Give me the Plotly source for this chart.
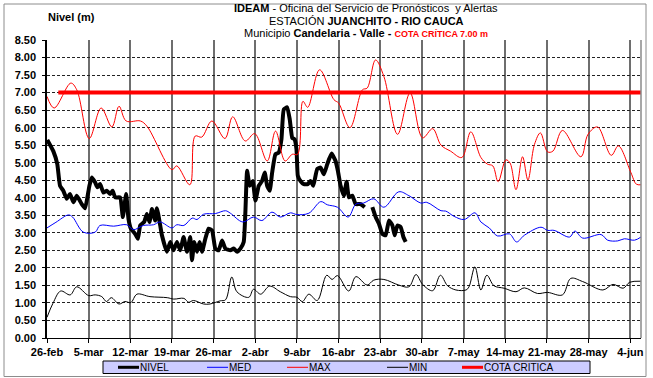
import pandas as pd
import plotly.graph_objects as go

# ---- data -------------------------------------------------------------
start_date = pd.Timestamp("2015-02-26")

tick_days = [0, 7, 14, 21, 28, 35, 42, 49, 56, 63, 70, 77, 84, 91, 98]
tick_labels = ["26-feb", "5-mar", "12-mar", "19-mar", "26-mar", "2-abr", "9-abr",
               "16-abr", "23-abr", "30-abr", "7-may", "14-may", "21-may",
               "28-may", "4-jun"]

nivel_days = [0.05, 1.06, 1.73, 2.19, 2.74, 3.32, 3.87, 4.43, 5.0, 5.84, 6.40,
              7.12, 7.53, 8.08, 8.47, 8.92, 9.48, 10.05, 10.61, 11.03, 11.45,
              12.29, 12.74, 13.30, 13.69, 14.09, 14.81, 15.27, 15.66, 16.33,
              16.78, 17.22, 17.63, 18.18, 18.47, 19.02, 19.31, 20.15, 20.71,
              21.26, 21.84, 22.39, 22.95, 23.52, 24.07, 24.36, 24.75, 25.20,
              25.64, 26.04, 26.60, 27.15, 27.73, 28.28, 28.84, 29.41, 29.97,
              30.81, 31.36, 31.94, 32.49, 33.05, 33.33, 33.62, 34.06, 34.56,
              35.02, 35.57, 36.14, 36.58, 36.99, 37.42, 37.83, 38.38, 38.94,
              39.39, 39.78, 40.35, 40.79, 41.20, 41.58, 41.92, 42.14, 42.59,
              43.15, 43.82, 44.28, 44.73, 45.40, 45.96, 46.52, 47.09, 47.81,
              48.48, 48.87, 49.33, 49.88, 50.34, 50.72, 51.30, 51.85, 52.69,
              53.37, 54.0, 54.66, 55.22, 55.77, 56.35, 56.90, 57.46, 58.03,
              58.42, 58.87, 59.43, 59.88, 60.27]
nivel_vals = [5.65, 5.33, 4.96, 4.34, 4.20, 3.97, 4.11, 3.87, 4.06, 3.82, 3.70,
              4.34, 4.58, 4.44, 4.30, 4.39, 4.15, 4.20, 4.11, 4.20, 4.01,
              4.01, 3.45, 4.11, 3.40, 3.12, 2.97, 2.83, 3.21, 3.31,
              3.54, 3.31, 3.68, 3.35, 3.70, 3.21, 2.93, 2.46, 2.74,
              2.50, 2.74, 2.50, 2.88, 2.46, 2.88, 2.22, 2.74, 2.46,
              2.74, 2.46, 2.83, 3.12, 3.07, 2.55, 2.50, 2.78, 2.55,
              2.50, 2.55, 2.46, 2.55, 2.74, 3.59, 4.77, 4.34, 4.48,
              3.92, 4.34, 4.48, 4.72, 4.34, 4.20, 4.72, 5.24, 5.29,
              5.67, 6.52, 6.58, 6.23, 5.71, 5.67, 5.38, 4.63, 4.48,
              4.39, 4.39, 4.48, 4.34, 4.82, 4.86, 4.67, 4.96, 5.26,
              5.05, 4.77, 4.34, 4.06, 4.46, 4.01, 4.06, 3.82, 3.82,
              3.73, None, 3.73, 3.45, 3.26, 2.97, 2.93, 3.35, 3.21,
              2.93, 3.21, 3.16, 2.88, 2.74]

med_days = [0, 1.5, 3.6, 4.3, 6.1, 8.1, 8.9, 11.2, 13.4, 14.5, 16.2, 17.9, 19,
            21, 21.8, 23, 24.4, 25.2, 26.3, 28.3, 30, 30.8, 32.9, 34.7, 36.1,
            37.8, 39.2, 40.9, 42, 44, 46, 47.1, 48.8, 50.6, 51.9, 53.2, 54.9,
            56.6, 59.1, 60.8, 62.8, 63.8, 66.2, 67, 68.4, 70.1, 71.9, 72.9,
            74.3, 75.7, 77.7, 78.9, 80.2, 83, 84.1, 85.2, 87.8, 88.7, 90,
            93.1, 94.2, 95.9, 97, 98.7, 99.8]
med_vals = [3.14, 3.30, 3.51, 3.45, 3.02, 3.02, 3.21, 3.19, 3.23, 3.09, 3.21,
            3.23, 3.31, 3.14, 3.23, 3.21, 3.42, 3.38, 3.53, 3.55, 3.63, 3.56,
            3.31, 3.45, 3.35, 3.59, 3.45, 3.57, 3.52, 3.56, 3.89, 3.80, 3.73,
            3.45, 3.82, 3.85, 3.97, 3.73, 4.17, 4.06, 3.85, 3.87, 3.63, 3.62,
            3.47, 3.38, 3.57, 3.31, 3.14, 2.91, 2.97, 2.74, 2.93, 3.16, 3.07,
            3.07, 2.88, 3.05, 2.85, 2.95, 2.79, 2.77, 2.83, 2.79, 2.88]

max_days = [0, 1.2, 4, 5, 7.1, 9.1, 10.9, 12.1, 13.3, 15.7, 16.8, 21, 21.8, 24,
            24.9, 26, 27.7, 29.9, 31.2, 33.3, 34.9, 37, 38.4, 40, 41.2, 42.1,
            43, 43.8, 45.8, 48.2, 49, 50.9, 53, 53.8, 55.2, 56.6, 58.9, 61,
            63.1, 64.8, 66.2, 67.8, 69.7, 71.2, 72.9, 74, 74.9, 75.8, 77.1,
            77.8, 78.8, 79.9, 80.8, 81.9, 82.9, 84.1, 85, 86.6, 89.7, 90.9,
            92.5, 94.8, 96, 98.1, 99, 99.8]
max_vals = [6.89, 6.56, 7.27, 7.08, 5.69, 6.56, 6.02, 6.61, 6.19, 6.19, 6.04,
            4.80, 4.91, 4.37, 5.76, 5.73, 6.19, 5.69, 6.31, 5.62, 5.83, 5.05,
            5.90, 5.05, 5.24, 5.24, 6.75, 6.58, 7.65, 6.80, 6.70, 6.00, 7.08,
            7.13, 7.93, 7.46, 5.81, 6.99, 5.71, 5.97, 5.50, 5.33, 5.15, 5.88,
            5.15, 4.96, 4.91, 4.46, 5.08, 4.99, 4.23, 5.17, 4.51, 5.52, 5.85,
            5.31, 5.33, 5.92, 5.17, 5.81, 6.02, 5.21, 5.48, 4.72, 4.39, 4.37]

min_days = [0, 1, 2.3, 3.9, 5, 7, 8.1, 9.2, 10, 10.8, 12.1, 13.1, 14.1, 15.1,
            17.3, 20.2, 21.3, 23, 23.8, 24.6, 26.3, 27.4, 29.1, 30, 31.05,
            31.9, 33.9, 34.7, 35.9, 37.4, 39.2, 40.9, 42, 42.9, 44, 45.4, 47,
            47.9, 48.8, 50.7, 51.9, 53.8, 54.9, 56.6, 59.1, 60.8, 62, 63.1,
            64.8, 66.1, 67.3, 68.7, 70.4, 70.9, 71.9, 72.9, 73.9, 75.1, 76.8,
            78.8, 80.2, 82.4, 84.1, 86.6, 88, 90, 93.4, 95.1, 96.8, 97.9, 99.8]
min_vals = [0.59, 0.99, 1.34, 1.23, 1.46, 1.21, 1.23, 1.18, 1.04, 1.15, 0.97,
            1.04, 1.01, 1.25, 1.18, 1.15, 1.11, 1.13, 1.02, 1.07, 0.97, 0.97,
            1.06, 1.09, 1.74, 1.32, 1.16, 1.39, 1.25, 1.48, 1.32, 1.18, 1.16,
            1.04, 1.25, 1.07, 1.79, 1.67, 1.78, 1.34, 1.75, 1.51, 1.65, 1.67,
            1.51, 1.46, 1.81, 1.53, 1.35, 1.79, 1.49, 1.37, 1.37, 1.46, 2.03,
            1.37, 1.79, 1.49, 1.42, 1.32, 1.43, 1.27, 1.30, 1.23, 1.70, 1.61,
            1.37, 1.53, 1.42, 1.59, 1.62]

cota_days = [1.9, 99.8]
cota_vals = [7.0, 7.0]

end_day = 99.8

# ---- layout helpers ---------------------------------------------------
W, H = 653, 378
M_L, M_R, M_T, M_B = 47, 12, 40, 40
PLOT_W = W - M_L - M_R
PLOT_H = H - M_T - M_B


def px(x):
    """Figure pixel column -> paper x."""
    return (x - M_L) / PLOT_W


def py(y):
    """Figure pixel row -> paper y."""
    return (H - M_B - y) / PLOT_H


def to_dates(days):
    return [start_date + pd.Timedelta(days=d) for d in days]


FONT = "Liberation Sans, Arial, sans-serif"

series = [
    ("NIVEL", nivel_days, nivel_vals, "black", 4),
    ("MED", med_days, med_vals, "#0000ff", 1),
    ("MAX", max_days, max_vals, "#ff0000", 1),
    ("MIN", min_days, min_vals, "black", 1),
    ("COTA CRITICA", cota_days, cota_vals, "#ff0000", 4),
]

fig = go.Figure()
for name, days, vals, color, width in series:
    if name == "COTA CRITICA":
        line = dict(color=color, width=width)
    elif name == "NIVEL":
        line = dict(color=color, width=width, shape="spline", smoothing=0.4)
    else:
        line = dict(color=color, width=width, shape="spline")
    fig.add_trace(go.Scatter(x=to_dates(days), y=vals, name=name,
                             mode="lines", connectgaps=False, line=line,
                             showlegend=False))

fig.update_layout(
    width=W, height=H,
    margin=dict(l=M_L, r=M_R, t=M_T, b=M_B, autoexpand=False),
    paper_bgcolor="white", plot_bgcolor="white",
    font=dict(family=FONT, size=11, color="black"),
    showlegend=False,
)

fig.update_xaxes(
    range=[start_date, start_date + pd.Timedelta(days=end_day)],
    tickmode="array",
    tickvals=to_dates(tick_days), ticktext=tick_labels,
    tickfont=dict(size=11, family=FONT, weight="bold"),
    showgrid=True, gridcolor="#6e6e6e", gridwidth=1.5,
    showline=True, linecolor="black", linewidth=1,
    ticks="outside", ticklen=4, tickcolor="black",
    zeroline=False,
)
fig.update_yaxes(
    range=[0, 8.5], tick0=0, dtick=0.5, tickformat=".2f",
    tickfont=dict(size=11, family=FONT, weight="bold"),
    showgrid=True, gridcolor="#222222", gridwidth=1, griddash="3px,2px",
    showline=True, linecolor="black", linewidth=1.5,
    ticks="outside", ticklen=3, tickcolor="black",
    ticklabelstandoff=4,
    zeroline=False,
)

# right border of the plotting area
fig.add_shape(type="line", xref="paper", yref="paper", x0=1, x1=1, y0=0, y1=1,
              line=dict(color="#8a8a8a", width=1.5))
# outer frame of the chart
fig.add_shape(type="rect", xref="paper", yref="paper",
              x0=px(4), x1=px(646), y0=py(376.5), y1=py(4),
              line=dict(color="#8c8c8c", width=1), layer="below")

# ---- legend strip below the axis --------------------------------------
fig.add_shape(type="rect", xref="paper", yref="paper",
              x0=px(103), x1=px(590), y0=py(373.5), y1=py(361),
              fillcolor="#ccccff", line=dict(color="black", width=1))
legend_x = [118, 207, 287, 387, 462]
legend_y = 367.3
for (name, _, _, color, width), lx in zip(series, legend_x):
    fig.add_shape(type="line", xref="paper", yref="paper",
                  x0=px(lx), x1=px(lx + 21), y0=py(legend_y), y1=py(legend_y),
                  line=dict(color=color, width=width - 1 if width > 1 else 1))
    fig.add_annotation(xref="paper", yref="paper", x=px(lx + 21),
                       y=py(legend_y), text=name, showarrow=False,
                       font=dict(size=10, family=FONT),
                       xanchor="left", yanchor="middle", xshift=-1)

# ---- titles -----------------------------------------------------------
title_x = px(366)
fig.add_annotation(xref="paper", yref="paper", x=title_x, y=py(8.5),
                   text="<b>IDEAM</b> - Oficina del Servicio de Pronósticos  y Alertas",
                   showarrow=False, font=dict(size=11, family=FONT),
                   xanchor="center", yanchor="middle")
fig.add_annotation(xref="paper", yref="paper", x=title_x, y=py(21),
                   text="ESTACIÓN <b>JUANCHITO - RIO CAUCA</b>",
                   showarrow=False, font=dict(size=11, family=FONT),
                   xanchor="center", yanchor="middle")
fig.add_annotation(xref="paper", yref="paper", x=title_x, y=py(33.5),
                   text=("Municipio <b>Candelaria - Valle - </b>"
                         "<b><span style='color:#ff0000;font-size:9px'>"
                         "COTA CRÍTICA 7.00 m</span></b>"),
                   showarrow=False, font=dict(size=11, family=FONT),
                   xanchor="center", yanchor="middle")
fig.add_annotation(xref="paper", yref="paper", x=px(71), y=py(17),
                   text="<b>Nivel (m)</b>", showarrow=False,
                   font=dict(size=11, family=FONT),
                   xanchor="center", yanchor="middle")

fig.write_html("out.html")
